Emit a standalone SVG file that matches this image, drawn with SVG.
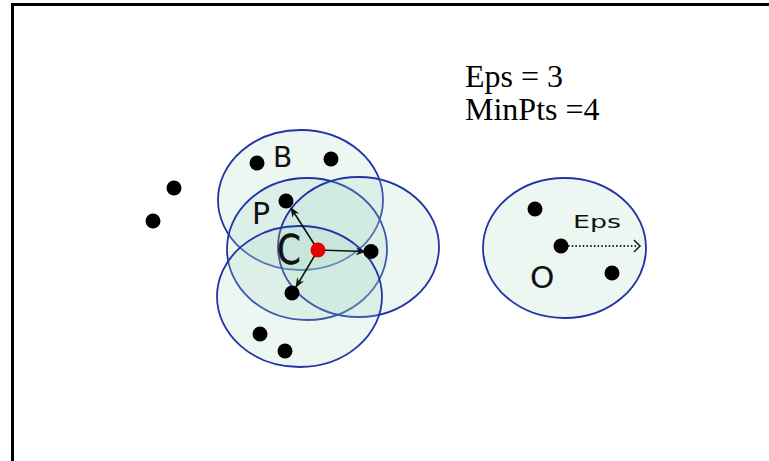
<svg xmlns="http://www.w3.org/2000/svg" width="769" height="461" viewBox="0 0 769 461">
  <defs>
    <style>
      .reg { fill: rgb(170,220,198); fill-opacity: 0.22; stroke: #2233a6; stroke-width: 1.8; }
      .pt { fill: #000; }
      .core { fill: #e60000; }
      .lbl { font-family: "DejaVu Sans", sans-serif; fill: #111; }
      .param { font-family: "Liberation Serif", serif; font-size: 32px; fill: #000; }
      .arr { stroke: #111; stroke-width: 1.6; fill: none; }
    </style>
    <marker id="ah" viewBox="0 0 10 8" refX="9" refY="4" markerWidth="10" markerHeight="8" markerUnits="userSpaceOnUse" orient="auto">
      <path d="M0,0 L10,4 L0,8 L3,4 z" fill="#111"/>
    </marker>
  </defs>
  <rect width="769" height="461" fill="#fff"/>
  <rect id="frame" x="12.5" y="4.5" width="780" height="480" fill="none" stroke="#000" stroke-width="3"/>

  <g id="params">
    <text class="param" x="465" y="87">Eps = 3</text>
    <text class="param" x="465" y="120">MinPts =4</text>
  </g>

  <g id="regions">
    <ellipse id="region-B" class="reg" cx="300.5" cy="200" rx="82.5" ry="70"/>
    <ellipse id="region-P" class="reg" cx="307" cy="249" rx="80" ry="71"/>
    <ellipse id="region-C" class="reg" cx="358.5" cy="247" rx="80.5" ry="70"/>
    <ellipse id="region-D" class="reg" cx="299.5" cy="296.5" rx="82.5" ry="70.5"/>
    <ellipse id="region-O" class="reg" cx="564.5" cy="248" rx="81.5" ry="70"/>
  </g>

  <g id="connectors">
    <line class="arr" x1="318" y1="250" x2="291" y2="208" marker-end="url(#ah)"/>
    <line class="arr" x1="318" y1="250" x2="365" y2="251.5" marker-end="url(#ah)"/>
    <line class="arr" x1="318" y1="250" x2="296" y2="287" marker-end="url(#ah)"/>
    <line x1="568" y1="246" x2="638" y2="246" stroke="#222" stroke-width="2" stroke-dasharray="1.5,2.2"/>
    <path d="M634,240 L640,246 L634,252" fill="none" stroke="#222" stroke-width="1.6"/>
  </g>

  <g id="noise">
    <circle class="pt" cx="174" cy="188" r="7.5"/>
    <circle class="pt" cx="153" cy="221" r="7.5"/>
  </g>
  <g id="node-B">
    <circle class="pt" cx="257" cy="163" r="7.5"/>
    <circle class="pt" cx="331" cy="159" r="7.5"/>
    <text class="lbl" x="273" y="167" font-size="28">B</text>
  </g>
  <g id="node-P">
    <circle class="pt" cx="286" cy="201" r="7.5"/>
    <text class="lbl" x="252" y="224" font-size="30">P</text>
  </g>
  <g id="node-C">
    <circle class="core" cx="318" cy="250" r="7.5"/>
    <text class="lbl" x="0" y="0" font-size="40" stroke="#111" stroke-width="0.6" transform="translate(277,264) scale(0.85,1)">C</text>
  </g>
  <g id="node-R">
    <circle class="pt" cx="371" cy="251.5" r="7.5"/>
  </g>
  <g id="node-D">
    <circle class="pt" cx="292" cy="293" r="7.5"/>
    <circle class="pt" cx="260" cy="334" r="7.5"/>
    <circle class="pt" cx="285" cy="351" r="7.5"/>
  </g>
  <g id="node-O">
    <circle class="pt" cx="535" cy="209" r="7.5"/>
    <circle class="pt" cx="561" cy="246" r="7.5"/>
    <circle class="pt" cx="612" cy="273" r="7.5"/>
    <text class="lbl" x="530" y="288" font-size="31">O</text>
    <text class="lbl" x="573" y="228" font-size="17" fill="#333" textLength="48" lengthAdjust="spacingAndGlyphs">Eps</text>
  </g>
</svg>
